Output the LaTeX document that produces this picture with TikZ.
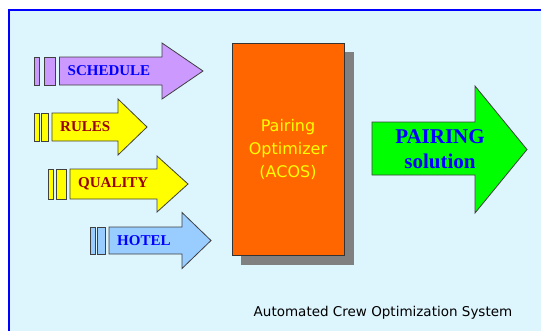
\documentclass[tikz,border=0pt]{standalone}
\usepackage{fontspec}
\setmainfont{Liberation Serif}
\setsansfont{DejaVu Sans}
\usetikzlibrary{positioning}
\definecolor{acosbg}{RGB}{221,245,253}
\definecolor{schedcol}{RGB}{204,153,255}
\definecolor{rulecol}{RGB}{255,255,0}
\definecolor{hotelcol}{RGB}{153,204,255}
\definecolor{darkred}{RGB}{153,0,0}
\definecolor{acosorange}{RGB}{255,102,0}
\definecolor{solgreen}{RGB}{0,255,0}
\definecolor{shadowgray}{RGB}{128,128,128}
\tikzset{
    % outline of every arrow and bar
    arrowpart/.style={draw=black!75,line width=0.8pt},
    % labels inside the input arrows
    intext/.style={font=\bfseries\fontsize{15}{15}\selectfont,anchor=west,inner sep=0pt},
}

\begin{document}
\begin{tikzpicture}[x=1pt,y=-1pt]
    \useasboundingbox (0,0) rectangle (541,330);
    \clip (0,0) rectangle (541,330);
    \fill[white] (0,0) rectangle (541,330);
    \draw[blue,line width=2pt,fill=acosbg] (9,10) rectangle (560,350);
    % input arrows: bar1 / bar2 / body start / head base / tip / top / bottom
    \foreach \a/\b/\c/\d/\e/\t/\u/\col/\tcol/\lbl in {
        34/44/59.5/162/203/57/85/schedcol/blue/SCHEDULE,
        34/41/52/118/147/113/141/rulecol/darkred/RULES,
        48/56/70/157/188/169/199/rulecol/darkred/QUALITY,
        90/97/109/182/211/227/254/hotelcol/blue/HOTEL}
    {
        \pgfmathsetmacro\m{(\t+\u)/2}
        \draw[arrowpart,fill=\col] (\a,\t) rectangle ({\a+5},\u);
        \draw[arrowpart,fill=\col] (\b,\t) rectangle ({\c-4},\u);
        \draw[arrowpart,fill=\col] (\c,\t) -- (\d,\t) -- (\d,{\m-28}) -- (\e,\m)
            -- (\d,{\m+28}) -- (\d,\u) -- (\c,\u) -- cycle;
        \node[intext,text=\tcol] (\lbl) at ({\c+8},\m) {\lbl};
    }
    % optimizer box with its shadow
    \fill[shadowgray] (241,52) rectangle (354,265);
    \node[draw=black!80,line width=0.8pt,fill=acosorange,minimum width=112pt,minimum height=212pt,
        align=center,text=rulecol,font=\sffamily\fontsize{16}{23}\selectfont] (acos) at (288,149)
        {Pairing\\Optimizer\\(ACOS)};
    % output arrow
    \draw[arrowpart,fill=solgreen] (372,122) -- (475,122) -- (475,86) -- (527,149.5)
        -- (475,213) -- (475,175) -- (372,175) -- cycle;
    \node[align=center,text=blue,font=\bfseries\fontsize{21}{25}\selectfont] (solution) at (440,149.5)
        {PAIRING\\solution};
    \node[font=\sffamily\fontsize{13.5}{14}\selectfont] (acosname) at (383,313)
        {Automated Crew Optimization System};
\end{tikzpicture}
\end{document}
